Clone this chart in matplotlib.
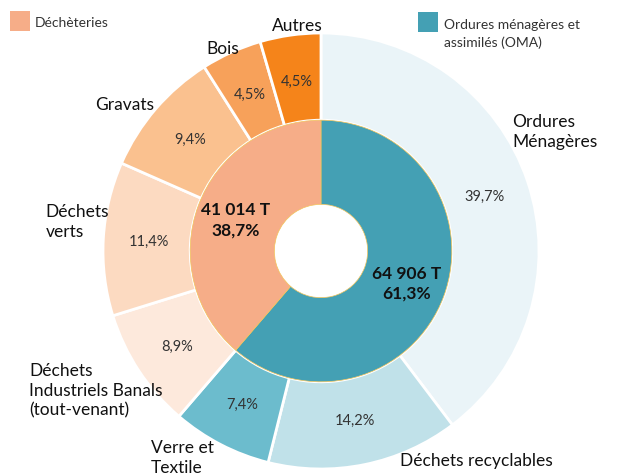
import numpy as np
import matplotlib.pyplot as plt
from matplotlib.patches import Rectangle

plt.rcParams['font.family'] = ['Lato', 'DejaVu Sans']

# données
inner_labels = ['64 906 T\n61,3%', '41 014 T\n38,7%']
inner_values = [61.3, 38.7]
inner_colors = ['#44A0B4', '#F6AD88']

outer_names = ['Ordures\nMénagères', 'Déchets recyclables', 'Verre et\nTextile',
               'Déchets\nIndustriels Banals\n(tout-venant)', 'Déchets\nverts',
               'Gravats', 'Bois', 'Autres']
outer_values = [39.7, 14.2, 7.4, 8.9, 11.4, 9.4, 4.5, 4.5]
outer_colors = ['#EAF4F8', '#C0E1E9', '#6CBCCD', '#FDE9DC', '#FCDAC1',
                '#FAC18F', '#F7A15A', '#F5841A']
pct_text = ['39,7%', '14,2%', '7,4%', '8,9%', '11,4%', '9,4%', '4,5%', '4,5%']

# position des noms (x, y, alignement)
name_pos = [(0.877, 0.55, 'left'), (0.364, -0.96, 'left'), (-0.78, -0.945, 'left'),
            (-1.34, -0.636, 'left'), (-1.264, 0.136, 'left'), (-0.9, 0.673, 'center'),
            (-0.45, 0.93, 'center'), (-0.109, 1.036, 'center')]

W, H = 620, 477
fig = plt.figure(figsize=(W / 100, H / 100), dpi=100)
cx, cy, R = 321, 252, 218
ax = fig.add_axes([(cx - R) / W, (H - cy - R) / H, 2 * R / W, 2 * R / H])
ax.set_aspect('equal')
ax.axis('off')

outer_w, _ = ax.pie(outer_values, radius=1.0, colors=outer_colors, startangle=90,
                    counterclock=False,
                    wedgeprops=dict(width=0.4, edgecolor='white', linewidth=2))
inner_w, _ = ax.pie(inner_values, radius=0.6, colors=inner_colors, startangle=90,
                    counterclock=False,
                    wedgeprops=dict(width=0.386, edgecolor='#F2C45A', linewidth=0.5))
ax.set_xlim(-1, 1)
ax.set_ylim(-1, 1)

for w, t in zip(outer_w, pct_text):
    ang = np.deg2rad((w.theta1 + w.theta2) / 2)
    ax.text(0.79 * np.cos(ang), 0.79 * np.sin(ang), t, ha='center', va='center',
            fontsize=10.5, color='#333333')

for w, t in zip(inner_w, inner_labels):
    ang = np.deg2rad((w.theta1 + w.theta2) / 2)
    ax.text(0.42 * np.cos(ang), 0.42 * np.sin(ang), t, ha='center', va='center',
            fontsize=12.5, fontweight='bold', color='#111111', linespacing=1.3)

for name, (x, y, ha) in zip(outer_names, name_pos):
    ax.text(x, y, name, ha=ha, va='center', fontsize=12.5, color='#111111',
            linespacing=1.3)

# légende
def px(x, y):
    return x / W, 1 - y / H

fig.patches.append(Rectangle(px(10, 32), 20 / W, 20 / H, transform=fig.transFigure,
                             facecolor='#F6AD88', edgecolor='none'))
fig.text(*px(35, 23), 'Déchèteries', fontsize=10, va='center', color='#333333')
fig.patches.append(Rectangle(px(418, 33), 20 / W, 20 / H, transform=fig.transFigure,
                             facecolor='#44A0B4', edgecolor='none'))
fig.text(*px(444, 34), 'Ordures ménagères et\nassimilés (OMA)', fontsize=10,
         va='center', color='#333333', linespacing=1.5)

fig.savefig('out.png', dpi=100)
